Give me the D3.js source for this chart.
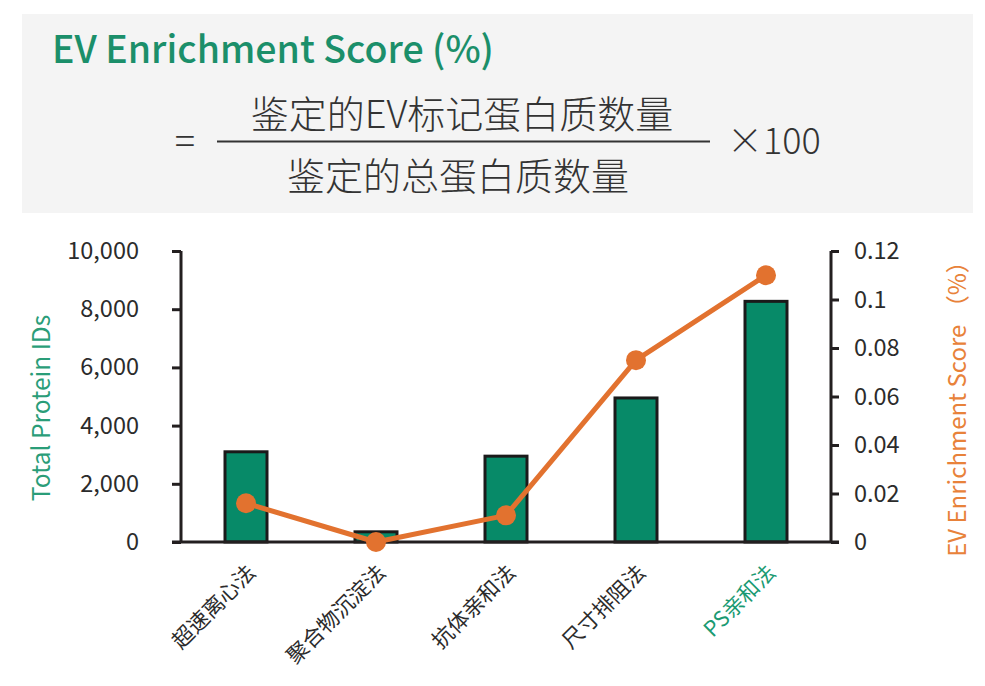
<!DOCTYPE html>
<html><head><meta charset="utf-8">
<script src="https://cdn.jsdelivr.net/npm/d3@7"></script>
<style>
html,body{margin:0;padding:0;background:#fff;}
svg{display:block;font-family:"Noto Sans CJK SC","Noto Sans",sans-serif;}
</style></head>
<body>
<svg id="chart" width="985" height="686"></svg>
<script>
const categories = ["超速离心法","聚合物沉淀法","抗体亲和法","尺寸排阻法","PS亲和法"];
const totalProteinIDs = [3100, 350, 2950, 4950, 8270];
const enrichmentScore = [0.016, 0, 0.011, 0.075, 0.11];
const leftTicks = [0, 2000, 4000, 6000, 8000, 10000];
const rightTicks = [0, 0.02, 0.04, 0.06, 0.08, 0.1, 0.12];
const titleText = "EV Enrichment Score (%)";
const numeratorText = "鉴定的EV标记蛋白质数量";
const denominatorText = "鉴定的总蛋白质数量";
const multiplierText = "×100";
const leftLabel = "Total Protein IDs";
const rightLabel = "EV Enrichment Score （%）";

const svg = d3.select("#chart");
const green = "#078a68", orange = "#e2722f", axisCol = "#231f20", textCol = "#2b2b2b";

// Formula box
svg.append("rect").attr("x",22).attr("y",14).attr("width",951).attr("height",199).attr("fill","#f4f4f4");
svg.append("text").attr("x",52).attr("y",63).attr("font-size",37.5).attr("font-weight",500)
  .attr("fill","#1b8f6a").text(titleText);
svg.append("text").attr("x",185).attr("y",155).attr("font-size",38).attr("text-anchor","middle")
  .attr("fill","#333").attr("font-weight",300).text("=");
svg.append("text").attr("x",462).attr("y",128).attr("font-size",38).attr("text-anchor","middle")
  .attr("fill","#333").attr("font-weight",300).text(numeratorText);
svg.append("line").attr("x1",217).attr("x2",710).attr("y1",141.5).attr("y2",141.5)
  .attr("stroke","#333").attr("stroke-width",2);
svg.append("text").attr("x",458).attr("y",190).attr("font-size",38).attr("text-anchor","middle")
  .attr("fill","#333").attr("font-weight",300).text(denominatorText);
svg.append("text").attr("x",727).attr("y",154).attr("font-size",36)
  .attr("fill","#333").attr("font-weight",300).text(multiplierText);

// Chart
const x0 = 181, x1 = 831, yBase = 542, yTop = 251;
const x = d3.scaleBand().domain(categories).range([x0, x1]).paddingInner(0).paddingOuter(0);
const yL = d3.scaleLinear().domain([0, 10000]).range([yBase, yTop]);
const yR = d3.scaleLinear().domain([0, 0.12]).range([yBase, yTop]);
const barW = 42;

// bars
svg.append("g").selectAll("rect").data(categories).join("rect")
  .attr("x", d => x(d) + x.bandwidth()/2 - barW/2)
  .attr("y", (d,i) => yL(totalProteinIDs[i]))
  .attr("width", barW)
  .attr("height", (d,i) => yBase - yL(totalProteinIDs[i]))
  .attr("fill", green).attr("stroke", "#1a1a1a").attr("stroke-width", 3);

// left axis
const axL = svg.append("g").attr("transform", `translate(${x0},0)`)
  .call(d3.axisLeft(yL).tickValues(leftTicks).tickSize(9).tickPadding(33).tickFormat(d3.format(",")));
axL.select(".domain").remove();
axL.append("line").attr("x1",0).attr("x2",0).attr("y1",yTop).attr("y2",yBase).attr("stroke",axisCol).attr("stroke-width",3);
axL.selectAll(".tick line").attr("stroke",axisCol).attr("stroke-width",3);
axL.selectAll(".tick text").attr("font-size",23.5).attr("fill",textCol)
  .attr("font-family","'Noto Sans CJK SC','Noto Sans',sans-serif");

// right axis
const axR = svg.append("g").attr("transform", `translate(${x1},0)`)
  .call(d3.axisRight(yR).tickValues(rightTicks).tickSize(8).tickPadding(15).tickFormat(d => d===0?"0":String(+d.toFixed(2))));
axR.select(".domain").remove();
axR.append("line").attr("x1",0).attr("x2",0).attr("y1",yTop).attr("y2",yBase).attr("stroke",axisCol).attr("stroke-width",3);
axR.selectAll(".tick line").attr("stroke",axisCol).attr("stroke-width",3);
axR.selectAll(".tick text").attr("font-size",23.5).attr("fill",textCol)
  .attr("font-family","'Noto Sans CJK SC','Noto Sans',sans-serif");

// baseline
svg.append("line").attr("x1",x0-9).attr("x2",x1+8).attr("y1",yBase).attr("y2",yBase)
  .attr("stroke",axisCol).attr("stroke-width",3);

// line series
const line = d3.line().x((d,i) => x(categories[i]) + x.bandwidth()/2).y(d => yR(d));
svg.append("path").datum(enrichmentScore).attr("d", line).attr("fill","none")
  .attr("stroke", orange).attr("stroke-width", 5).attr("stroke-linejoin","round");
svg.append("g").selectAll("circle").data(enrichmentScore).join("circle")
  .attr("cx", (d,i) => x(categories[i]) + x.bandwidth()/2)
  .attr("cy", d => yR(d)).attr("r", 10).attr("fill", orange);

// x labels
svg.append("g").selectAll("text").data(categories).join("text")
  .attr("transform", d => `translate(${x(d)+x.bandwidth()/2+11},574) rotate(-45)`)
  .attr("text-anchor","end").attr("font-size",21.5)
  .attr("fill", (d,i) => i===categories.length-1 ? "#1a9a72" : textCol)
  .text(d => d);

// axis titles
svg.append("text").attr("transform","translate(50,408) rotate(-90)").attr("text-anchor","middle")
  .attr("font-size",24.5).attr("fill","#2a9d78").text(leftLabel);
svg.append("text").attr("transform","translate(966,403) rotate(-90)").attr("text-anchor","middle")
  .attr("font-size",24).attr("fill","#e8823a").text(rightLabel);
</script>
</body></html>
